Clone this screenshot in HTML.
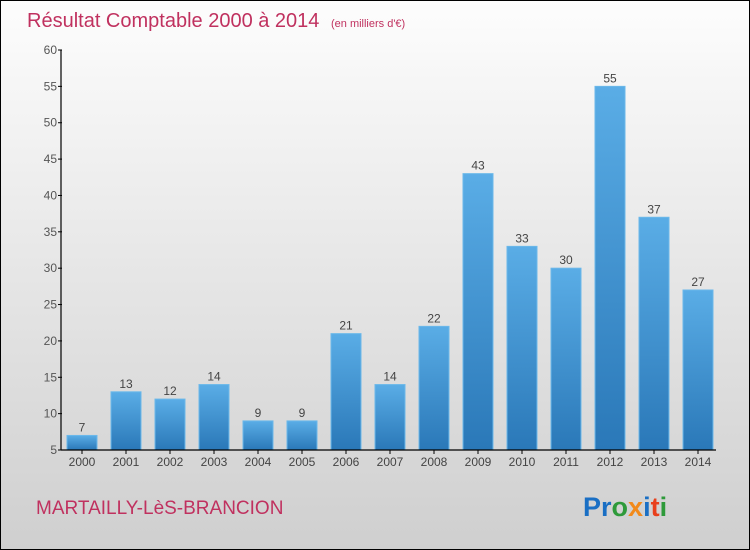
<!DOCTYPE html>
<html><head><meta charset="utf-8"><style>
body{margin:0;width:750px;height:550px;overflow:hidden}
svg{display:block;font-family:"Liberation Sans",sans-serif}
</style></head><body>
<svg id="c" width="750" height="550">
<defs>
<linearGradient id="bg" x1="0" y1="0" x2="0" y2="1"><stop offset="0" stop-color="#fdfdfd"/><stop offset="1" stop-color="#cfcfcf"/></linearGradient>
<linearGradient id="bar" x1="0" y1="0" x2="0" y2="1"><stop offset="0" stop-color="#5aade6"/><stop offset="1" stop-color="#2a78b8"/></linearGradient>
</defs>
<rect x="0.5" y="0.5" width="749" height="549" fill="url(#bg)" stroke="#000"/>
<text x="27" y="27" font-size="20" fill="#c0315f">Résultat Comptable 2000 à 2014 <tspan font-size="11" dx="6">(en milliers d'€)</tspan></text>
<g id="plot"></g>
<text x="36" y="514" font-size="19" fill="#c0315f">MARTAILLY-LèS-BRANCION</text>
<text x="583" y="516" font-size="27" font-weight="bold"><tspan fill="#1a6fc4">Pr</tspan><tspan fill="#2e9a3a">o</tspan><tspan fill="#f28a1a">x</tspan><tspan fill="#1a6fc4">i</tspan><tspan fill="#e8401c">t</tspan><tspan fill="#2e9a3a">i</tspan></text>
</svg>
<script>
const years=["2000","2001","2002","2003","2004","2005","2006","2007","2008","2009","2010","2011","2012","2013","2014"];
const values=[7,13,12,14,9,9,21,14,22,43,33,30,55,37,27];
const yTicks=[5,10,15,20,25,30,35,40,45,50,55,60];
const NS="http://www.w3.org/2000/svg";
const g=document.getElementById('plot');
const y0=450,y1=50,vmin=5,vmax=60;
function ys(v){return y0-(v-vmin)/(vmax-vmin)*(y0-y1);}
function xs(i){return 82+i*44;}
function el(t,a,txt){const e=document.createElementNS(NS,t);for(const k in a)e.setAttribute(k,a[k]);if(txt!==undefined)e.textContent=txt;g.appendChild(e);return e;}
values.forEach((v,i)=>{
 const r=el('rect',{x:xs(i)-15,y:ys(v),width:30,height:y0-ys(v),fill:'url(#bar)',stroke:'#6bb8ea','stroke-width':1});
 
 
 const t=el('text',{x:xs(i),y:ys(v)-4,'font-size':12,fill:'#444','text-anchor':'middle'},v);
 
 
 const xl=el('text',{x:xs(i),y:466,'font-size':12,fill:'#444','text-anchor':'middle'},years[i]);
 
 
 el('line',{x1:xs(i),x2:xs(i),y1:y0,y2:y0+4,stroke:'#000'});
});
yTicks.forEach(v=>{
 el('line',{x1:58,x2:62,y1:ys(v),y2:ys(v),stroke:'#000'});
 const t=el('text',{x:57,y:ys(v)+4,'font-size':12,fill:'#555','text-anchor':'end'},v);
 
 
});
const ya=el('line',{x1:61,x2:61,y1:y1,y2:y0,stroke:'#000','stroke-width':1.2});


const xa=el('line',{x1:61,x2:716,y1:y0,y2:y0,stroke:'#000','stroke-width':1.2});


</script>
</body></html>
